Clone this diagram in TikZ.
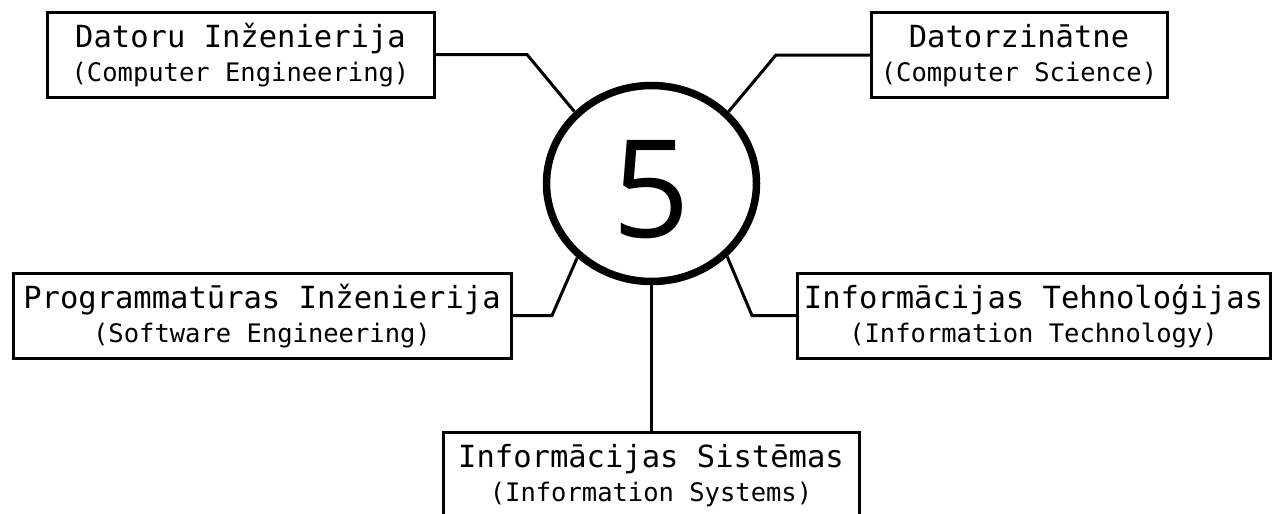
\documentclass[tikz,border=0pt]{standalone}
\usepackage{fontspec}
\setmainfont{DejaVu Sans Mono}
\newfontfamily\digitfont{Open Sans}
\usetikzlibrary{shapes.geometric}
\begin{document}
\begin{tikzpicture}[x=1pt,y=-1pt,
  box/.style={draw, line width=3pt, rectangle, inner sep=0pt, outer sep=0pt, fill=white, minimum height=85pt},
  conn/.style={line width=3pt, line join=miter},
  titletext/.style={inner sep=0pt, anchor=base, font=\fontsize{30.5}{36}\selectfont},
  subtext/.style={inner sep=0pt, anchor=base, font=\fontsize{25.5}{30}\selectfont},
  hub/.style={draw, ellipse, line width=7.5pt, minimum width=210pt, minimum height=196pt,
    inner sep=0pt, text height=107pt, text depth=0pt,
    font=\digitfont\fontsize{136}{140}\selectfont}]
\clip (0,0) rectangle (1272,514);
\fill[white] (0,0) rectangle (1272,514);

% hub
\node[hub] (c) at (651.5,183.5) {5};

% boxes
\node[box, minimum width=387pt] (b1) at (240.5,54.5) {};
\node[box, minimum width=296pt] (b2) at (1019,55) {};
\node[box, minimum width=498pt] (b3) at (262,315.5) {};
\node[box, minimum width=473pt] (b4) at (1033.5,315.5) {};
\node[box, minimum width=416pt] (b5) at (651,474.5) {};

% texts
\node[titletext] (t1a) at ([yshift=-35pt]b1.north) {Datoru Inženierija};
\node[subtext]   (t1b) at ([yshift=-69pt]b1.north) {(Computer Engineering)};
\node[titletext] (t2a) at ([yshift=-35pt]b2.north) {Datorzinātne};
\node[subtext]   (t2b) at ([yshift=-69pt]b2.north) {(Computer Science)};
\node[titletext] (t3a) at ([yshift=-35pt]b3.north) {Programmatūras Inženierija};
\node[subtext]   (t3b) at ([yshift=-69pt]b3.north) {(Software Engineering)};
\node[titletext] (t4a) at ([yshift=-35pt]b4.north) {Informācijas Tehnoloģijas};
\node[subtext]   (t4b) at ([yshift=-69pt]b4.north) {(Information Technology)};
\node[titletext] (t5a) at ([yshift=-35pt]b5.north) {Informācijas Sistēmas};
\node[subtext]   (t5b) at ([yshift=-69pt]b5.north) {(Information Systems)};

% connectors
\draw[conn] (b1.east) -- ++(93,0) -- (c.137);
\draw[conn] (b2.west) -- ++(-95,0) -- (c.43);
\draw[conn] (b3.east) -- ++(41,0) -- (c.225);
\draw[conn] (b4.west) -- ++(-45,0) -- (c.316);
\draw[conn] (c.south) -- (c.south |- b5.north);
\end{tikzpicture}
\end{document}
